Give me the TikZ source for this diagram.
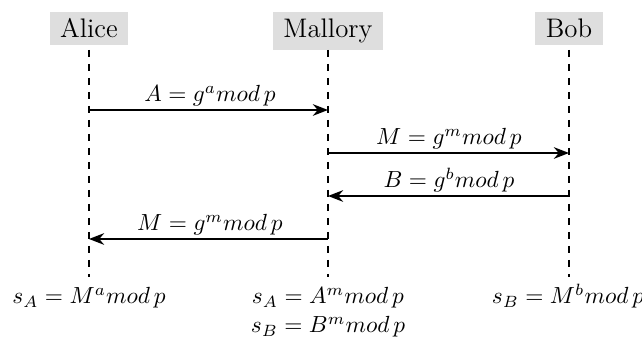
\documentclass[tikz,border=0pt]{standalone}
\usetikzlibrary{arrows.meta}
\begin{document}
\begin{tikzpicture}[x=0.4286pt,y=-0.4286pt,
  actor/.style={fill={rgb,255:red,222;green,222;blue,222},font=\fontsize{11.5}{14}\selectfont,inner xsep=4.5pt,inner ysep=3pt,anchor=base},
  lifeline/.style={dashed,line width=0.6pt},
  msg/.style={-{Stealth[length=6.5pt,width=5pt]},line width=0.8pt},
  lbl/.style={anchor=base,inner sep=0pt}]
\useasboundingbox (0,0) rectangle (642,343);
% actors
\node[actor] (alice) at (89,38) {Alice};
\node[actor] (mallory) at (328,38) {Mallory};
\node[actor] (bob) at (569,38) {Bob};
% lifelines
\coordinate (aT) at (89,50);  \coordinate (aB) at (89,277);
\coordinate (mT) at (328,50); \coordinate (mB) at (328,277);
\coordinate (bT) at (569,50); \coordinate (bB) at (569,277);
\draw[lifeline] (aT) -- (aB);
\draw[lifeline] (mT) -- (mB);
\draw[lifeline] (bT) -- (bB);
% message points
\coordinate (a1) at (89,110);  \coordinate (m1) at (328,110);
\coordinate (m2) at (328,153); \coordinate (b2) at (569,153);
\coordinate (b3) at (569,196); \coordinate (m3) at (328,196);
\coordinate (m4) at (328,239); \coordinate (a4) at (89,239);
\draw[msg] (a1) -- (m1);
\draw[msg] (m2) -- (b2);
\draw[msg] (b3) -- (m3);
\draw[msg] (m4) -- (a4);
\node[lbl] (l1) at (210,102) {$A = g^a mod\,p$};
\node[lbl] (l2) at (449,145) {$M = g^m mod\,p$};
\node[lbl] (l3) at (449,188) {$B = g^b mod\,p$};
\node[lbl] (l4) at (210,231) {$M = g^m mod\,p$};
% results
\node[lbl] (sa1) at (89,304) {$s_A = M^a mod\,p$};
\node[lbl] (sa2) at (328,304) {$s_A = A^m mod\,p$};
\node[lbl] (sb2) at (328,333) {$s_B = B^m mod\,p$};
\node[lbl] (sb1) at (568,304) {$s_B = M^b mod\,p$};
\end{tikzpicture}
\end{document}
